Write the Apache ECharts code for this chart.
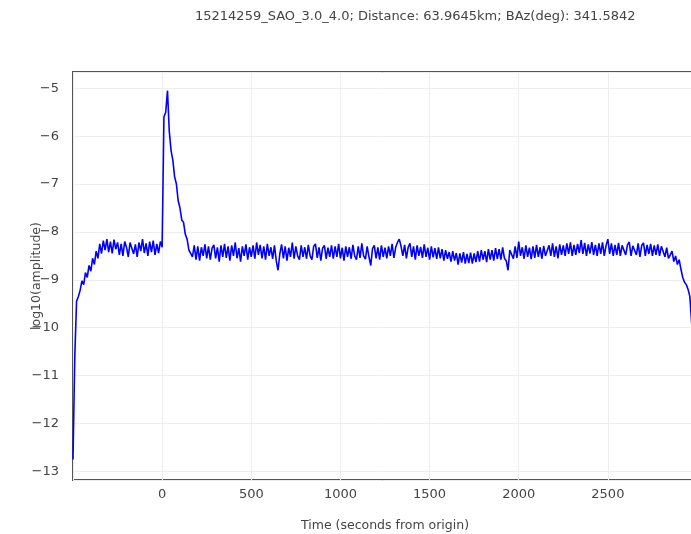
<!DOCTYPE html>
<html>
<head>
<meta charset="utf-8">
<script src="https://cdn.jsdelivr.net/npm/echarts@6/dist/echarts.min.js"></script>
<style>
  html, body { margin: 0; padding: 0; background: #fff; }
  #chart { width: 691px; height: 534px; }
</style>
</head>
<body>
<div id="chart"></div>
<script>
// Envelope trace, sampled every 10 s starting at -500 s
const startTime = -500;
const sampleStep = 10;

// -500 .. 0 s : onset of the record and pre-event noise
const preEvent = [
  -12.75, -10.6, -9.45, -9.35, -9.22, -9.02, -9.10, -8.85, -8.95, -8.70,
  -8.82, -8.55, -8.68, -8.40, -8.55, -8.25, -8.45, -8.18, -8.38, -8.15,
  -8.42, -8.20, -8.45, -8.16, -8.36, -8.22, -8.48, -8.25, -8.50, -8.20,
  -8.32, -8.52, -8.22, -8.18, -8.46, -8.26, -8.52, -8.22, -8.40, -8.15,
  -8.44, -8.24, -8.50, -8.20, -8.42, -8.18, -8.48, -8.25, -8.44, -8.20,
  -8.32
];

// 10 .. 160 s : event arrival and decay
const eventPulse = [
  -5.60, -5.50, -5.05, -5.90, -6.30, -6.50, -6.85, -7.00, -7.35, -7.50,
  -7.75, -7.80, -8.05, -8.15, -8.38, -8.45
];

// 170 .. 2850 s : coda / background level
const coda = [
  -8.52, -8.28, -8.58, -8.30, -8.60, -8.32, -8.50, -8.26, -8.55,
  -8.30, -8.58, -8.34, -8.27, -8.55, -8.32, -8.62, -8.28, -8.52, -8.25,
  -8.54, -8.30, -8.60, -8.28, -8.50, -8.22, -8.55, -8.34, -8.62, -8.30,
  -8.50, -8.26, -8.58, -8.32, -8.52, -8.28, -8.56, -8.22, -8.48, -8.27,
  -8.55, -8.30, -8.58, -8.25, -8.50, -8.32, -8.56, -8.28, -8.60, -8.80,
  -8.46, -8.26, -8.55, -8.30, -8.60, -8.33, -8.52, -8.22, -8.56, -8.30,
  -8.50, -8.58, -8.28, -8.52, -8.32, -8.56, -8.27, -8.50, -8.58, -8.30,
  -8.25, -8.54, -8.32, -8.60, -8.34, -8.28, -8.56, -8.33, -8.52, -8.28,
  -8.56, -8.30, -8.52, -8.25, -8.55, -8.33, -8.60, -8.30, -8.52, -8.32,
  -8.56, -8.27, -8.50, -8.58, -8.30, -8.54, -8.24, -8.50, -8.57, -8.30,
  -8.52, -8.70, -8.35, -8.28, -8.55, -8.32, -8.58, -8.28, -8.52, -8.33,
  -8.55, -8.30, -8.50, -8.25, -8.54, -8.32, -8.22, -8.15, -8.30, -8.50,
  -8.27, -8.55, -8.32, -8.24, -8.52, -8.30, -8.58, -8.28, -8.50, -8.31,
  -8.54, -8.26, -8.52, -8.33, -8.58, -8.30, -8.53, -8.34, -8.56, -8.32,
  -8.55, -8.36, -8.60, -8.38, -8.56, -8.42, -8.62, -8.40, -8.60, -8.44,
  -8.68, -8.45, -8.64, -8.42, -8.66, -8.46, -8.65, -8.43, -8.66, -8.45,
  -8.63, -8.40, -8.62, -8.38, -8.58, -8.40, -8.63, -8.36, -8.58, -8.38,
  -8.60, -8.34, -8.56, -8.36, -8.58, -8.32, -8.55, -8.60, -8.80, -8.38,
  -8.34, -8.56, -8.30, -8.54, -8.20, -8.50, -8.32, -8.56, -8.28, -8.52,
  -8.33, -8.57, -8.30, -8.54, -8.27, -8.52, -8.32, -8.56, -8.29, -8.50,
  -8.54, -8.28, -8.50, -8.24, -8.52, -8.30, -8.55, -8.26, -8.48, -8.28,
  -8.50, -8.24, -8.46, -8.22, -8.50, -8.27, -8.48, -8.25, -8.44, -8.17,
  -8.46, -8.23, -8.50, -8.26, -8.45, -8.21, -8.48, -8.27, -8.50, -8.24,
  -8.46, -8.22, -8.50, -8.28, -8.15, -8.46, -8.24, -8.50, -8.27, -8.48,
  -8.23, -8.50, -8.28, -8.24, -8.48, -8.27, -8.21, -8.50, -8.29, -8.25,
  -8.48, -8.24, -8.52, -8.28, -8.23, -8.50, -8.27, -8.46, -8.25, -8.50,
  -8.28, -8.48, -8.26, -8.50, -8.30, -8.27, -8.52, -8.33, -8.55, -8.48
];

// 2860 .. 2980 s : end-of-window taper
const taper = [
  -8.40, -8.62, -8.50, -8.68, -8.58, -8.78, -8.95, -9.05, -9.10, -9.20,
  -9.35, -9.90, -10.4
];

const xTicks = [0, 500, 1000, 1500, 2000, 2500];
const yTicks = [-13, -12, -11, -10, -9, -8, -7, -6, -5];

const amplitude = preEvent.concat(eventPulse, coda, taper);
const seriesData = amplitude.map((v, i) => [startTime + i * sampleStep, v]);

const FONT = 'DejaVu Sans';
const minus = v => String(v).replace('-', '\u2212');

const chart = echarts.init(document.getElementById('chart'), null, { renderer: 'canvas' });
chart.setOption({
  animation: false,
  backgroundColor: '#ffffff',
  title: {
    text: '15214259_SAO_3.0_4.0; Distance: 63.9645km; BAz(deg): 341.5842',
    left: 190,
    top: 5,
    textStyle: { fontFamily: FONT, fontSize: 13, fontWeight: 'normal', color: '#444' }
  },
  grid: {
    left: 73, top: 72, height: 408, width: 624,
    outerBoundsMode: 'none',
    containLabel: false,
    show: true, borderColor: '#555', borderWidth: 2, backgroundColor: 'transparent'
  },
  xAxis: {
    type: 'value',
    min: -500, max: 3000, interval: 500,
    name: 'Time (seconds from origin)',
    nameLocation: 'middle', nameGap: 39, nameMoveOverlap: false,
    nameTextStyle: { fontFamily: FONT, fontSize: 12.5, color: '#444' },
    axisLine: { show: false },
    axisTick: { show: false },
    axisLabel: {
      fontFamily: FONT, fontSize: 13, color: '#444', margin: 8,
      showMinLabel: false, showMaxLabel: false,
      formatter: v => xTicks.includes(v) ? minus(v) : ''
    },
    splitLine: { show: true, lineStyle: { color: '#eeeeee', width: 1 } }
  },
  yAxis: {
    type: 'value',
    min: -13.18, max: -4.66, splitNumber: 8,
    name: 'log10(amplitude)',
    nameLocation: 'middle', nameGap: 30, nameMoveOverlap: false,
    nameTextStyle: { fontFamily: FONT, fontSize: 12.5, color: '#444' },
    axisLine: { show: false },
    axisTick: { show: false },
    axisLabel: {
      fontFamily: FONT, fontSize: 13, color: '#444', margin: 14,
      showMinLabel: false, showMaxLabel: false,
      formatter: v => yTicks.includes(v) ? minus(v) : ''
    },
    splitLine: { show: true, lineStyle: { color: '#eeeeee', width: 1 } }
  },
  series: [{
    type: 'line',
    data: seriesData,
    showSymbol: false,
    symbol: 'none',
    lineStyle: { color: '#0000ff', width: 1.6 },
    clip: true
  }]
});
</script>
</body>
</html>
